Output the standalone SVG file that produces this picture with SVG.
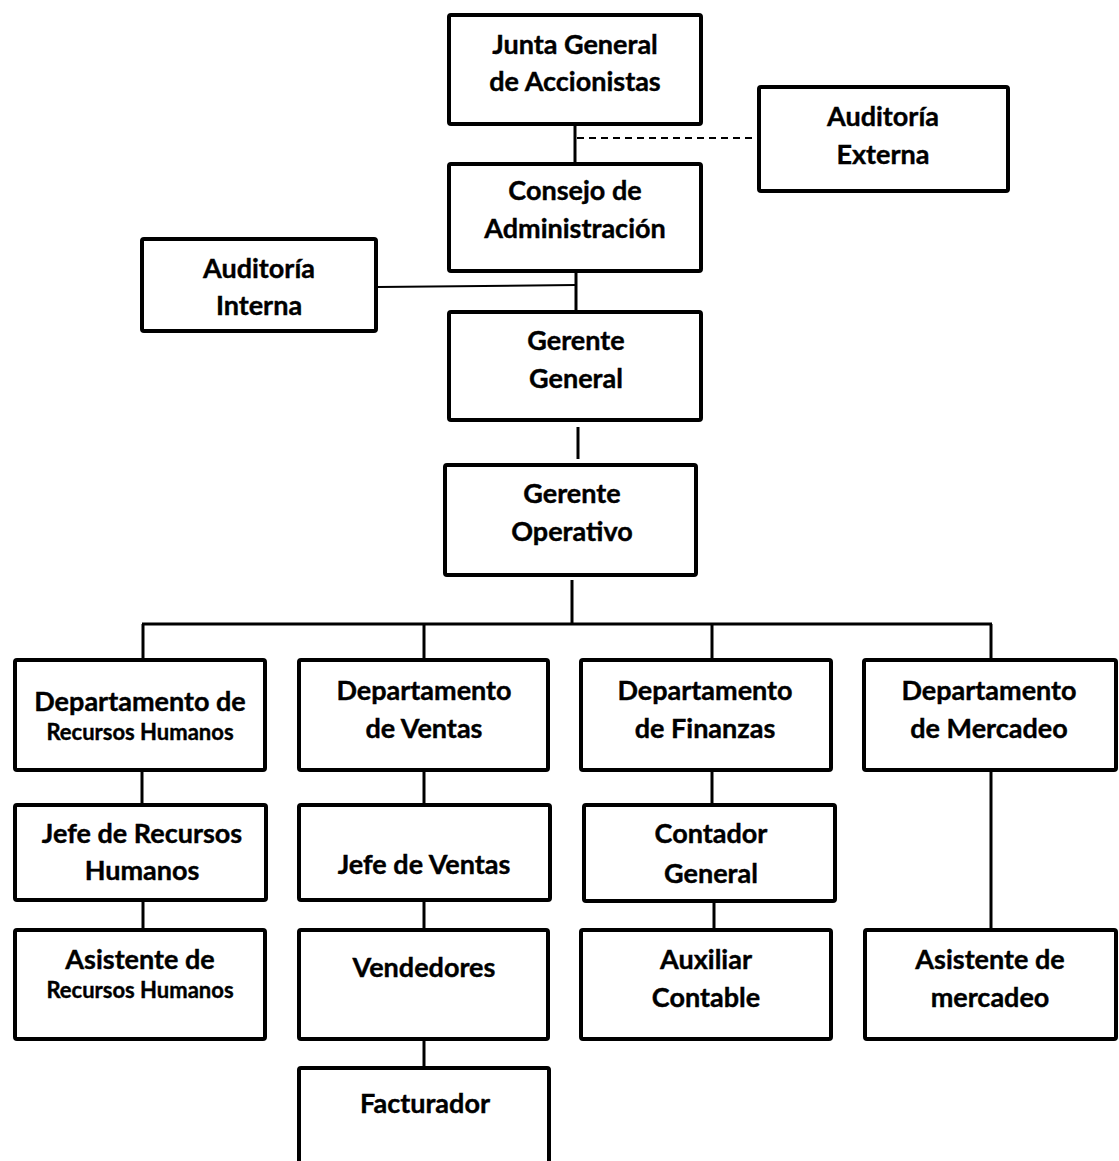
<svg xmlns="http://www.w3.org/2000/svg" width="1119" height="1161" viewBox="0 0 1119 1161">
<style>
.box{fill:#fff;stroke:#000;stroke-width:4}
.c{stroke:#000;stroke-width:3;fill:none}
.t{font-family:Lato,"Liberation Sans",sans-serif;font-weight:bold;font-size:27px;text-anchor:middle;fill:#000;stroke:#000;stroke-width:0.4}
.s{font-size:22px}
</style>
<rect width="1119" height="1161" fill="#fff"/>
<g id="connectors">
<line class="c" x1="575" y1="126" x2="575" y2="162"/>
<line x1="577" y1="138" x2="757" y2="138" stroke="#000" stroke-width="2" stroke-dasharray="7,5"/>
<line class="c" x1="576" y1="273" x2="576" y2="310"/>
<line x1="378" y1="287" x2="576" y2="285" stroke="#000" stroke-width="2"/>
<line class="c" x1="578" y1="427" x2="578" y2="459"/>
<line class="c" x1="572" y1="580" x2="572" y2="624"/>
<line class="c" x1="142" y1="624" x2="992" y2="624"/>
<line class="c" x1="143" y1="624" x2="143" y2="658"/>
<line class="c" x1="424" y1="624" x2="424" y2="658"/>
<line class="c" x1="712" y1="624" x2="712" y2="658"/>
<line class="c" x1="991" y1="624" x2="991" y2="658"/>
<line class="c" x1="142" y1="772" x2="142" y2="803"/>
<line class="c" x1="143" y1="902" x2="143" y2="928"/>
<line class="c" x1="424" y1="772" x2="424" y2="803"/>
<line class="c" x1="424" y1="901" x2="424" y2="928"/>
<line class="c" x1="424" y1="1041" x2="424" y2="1066"/>
<line class="c" x1="712" y1="772" x2="712" y2="805"/>
<line class="c" x1="714" y1="903" x2="714" y2="928"/>
<line class="c" x1="991" y1="772" x2="991" y2="928"/>
</g>
<g id="junta"><rect class="box" x="449" y="15" width="252" height="109" rx="2"/>
<text class="t" x="575" y="54">Junta General</text><text class="t" x="575" y="91">de Accionistas</text></g>
<g id="auditoria-externa"><rect class="box" x="759" y="87" width="249" height="104" rx="2"/>
<text class="t" x="883" y="126">Auditoría</text><text class="t" x="883" y="164">Externa</text></g>
<g id="consejo"><rect class="box" x="449" y="164" width="252" height="107" rx="2"/>
<text class="t" x="575" y="200">Consejo de</text><text class="t" x="575" y="238">Administración</text></g>
<g id="auditoria-interna"><rect class="box" x="142" y="239" width="234" height="92" rx="2"/>
<text class="t" x="259" y="278">Auditoría</text><text class="t" x="259" y="315">Interna</text></g>
<g id="gerente-general"><rect class="box" x="449" y="312" width="252" height="108" rx="2"/>
<text class="t" x="576" y="350">Gerente</text><text class="t" x="576" y="388">General</text></g>
<g id="gerente-operativo"><rect class="box" x="445" y="465" width="251" height="110" rx="2"/>
<text class="t" x="572" y="503">Gerente</text><text class="t" x="572" y="541">Operativo</text></g>
<g id="dept-rh"><rect class="box" x="15" y="660" width="250" height="110" rx="2"/>
<text class="t" x="140" y="711">Departamento de</text><text class="t s" x="140" y="740">Recursos Humanos</text></g>
<g id="dept-ventas"><rect class="box" x="299" y="660" width="249" height="110" rx="2"/>
<text class="t" x="424" y="700">Departamento</text><text class="t" x="424" y="738">de Ventas</text></g>
<g id="dept-finanzas"><rect class="box" x="581" y="660" width="250" height="110" rx="2"/>
<text class="t" x="705" y="700">Departamento</text><text class="t" x="705" y="738">de Finanzas</text></g>
<g id="dept-mercadeo"><rect class="box" x="864" y="660" width="252" height="110" rx="2"/>
<text class="t" x="989" y="700">Departamento</text><text class="t" x="989" y="738">de Mercadeo</text></g>
<g id="jefe-rh"><rect class="box" x="15" y="805" width="251" height="95" rx="2"/>
<text class="t" x="142" y="843">Jefe de Recursos</text><text class="t" x="142" y="880">Humanos</text></g>
<g id="jefe-ventas"><rect class="box" x="299" y="805" width="251" height="95" rx="2"/>
<text class="t" x="424" y="874">Jefe de Ventas</text></g>
<g id="contador"><rect class="box" x="584" y="805" width="251" height="96" rx="2"/>
<text class="t" x="711" y="843">Contador</text><text class="t" x="711" y="883">General</text></g>
<g id="asistente-rh"><rect class="box" x="15" y="930" width="250" height="109" rx="2"/>
<text class="t" x="140" y="969">Asistente de</text><text class="t s" x="140" y="998">Recursos Humanos</text></g>
<g id="vendedores"><rect class="box" x="299" y="930" width="249" height="109" rx="2"/>
<text class="t" x="424" y="977">Vendedores</text></g>
<g id="auxiliar"><rect class="box" x="581" y="930" width="250" height="109" rx="2"/>
<text class="t" x="706" y="969">Auxiliar</text><text class="t" x="706" y="1007">Contable</text></g>
<g id="asistente-mercadeo"><rect class="box" x="865" y="930" width="251" height="109" rx="2"/>
<text class="t" x="990" y="969">Asistente de</text><text class="t" x="990" y="1007">mercadeo</text></g>
<g id="facturador"><rect class="box" x="299" y="1068" width="250" height="110" rx="2"/>
<text class="t" x="425" y="1113">Facturador</text></g>
</svg>
